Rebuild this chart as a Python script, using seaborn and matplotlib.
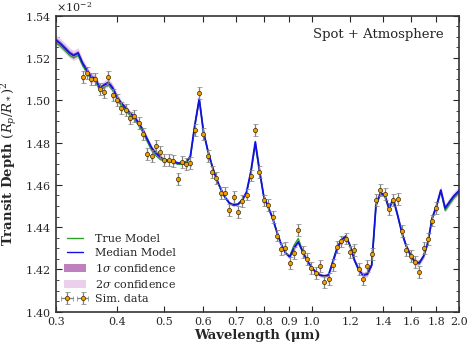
import numpy as np
import pandas as pd
import seaborn as sns
import matplotlib
matplotlib.use('Agg')
import matplotlib.pyplot as plt
from matplotlib.ticker import FixedLocator, FixedFormatter, NullLocator, MultipleLocator, ScalarFormatter
from matplotlib.patches import Patch
from matplotlib.lines import Line2D

sns.set_style('ticks')
plt.rcParams['font.family'] = ['DejaVu Serif']
plt.rcParams['mathtext.fontset'] = 'dejavuserif'

# simulated data: wavelength (um) and transit depth (in units of 1e-2)
wl = [0.340, 0.347, 0.354, 0.361, 0.369, 0.376, 0.384, 0.392, 0.400, 0.408,
      0.417, 0.425, 0.434, 0.443, 0.452, 0.461, 0.471, 0.480, 0.490, 0.500,
      0.511, 0.521, 0.532, 0.543, 0.554, 0.565, 0.577, 0.589, 0.601, 0.613,
      0.626, 0.638, 0.652, 0.665, 0.679, 0.693, 0.707, 0.721, 0.736, 0.751,
      0.767, 0.782, 0.798, 0.815, 0.832, 0.849, 0.866, 0.884, 0.902, 0.920,
      0.939, 0.959, 0.978, 0.998, 1.019, 1.040, 1.061, 1.083, 1.105, 1.128,
      1.151, 1.175, 1.199, 1.223, 1.249, 1.274, 1.300, 1.327, 1.354, 1.382,
      1.411, 1.439, 1.469, 1.499, 1.530, 1.561, 1.593, 1.626, 1.660, 1.694,
      1.728, 1.764, 1.800]
depth = [1.5111, 1.5130, 1.5099, 1.5099, 1.5055, 1.5038, 1.5111, 1.5025, 1.5003, 1.4963,
         1.4954, 1.4916, 1.4924, 1.4891, 1.4839, 1.4744, 1.4735, 1.4785, 1.4754, 1.4717,
         1.4719, 1.4714, 1.4628, 1.4708, 1.4697, 1.4705, 1.4861, 1.5034, 1.4840, 1.4736,
         1.4661, 1.4631, 1.4561, 1.4563, 1.4482, 1.4542, 1.4471, 1.4525, 1.4554, 1.4644,
         1.4858, 1.4661, 1.4526, 1.4506, 1.4446, 1.4360, 1.4296, 1.4300, 1.4229, 1.4277,
         1.4385, 1.4282, 1.4250, 1.4205, 1.4182, 1.4217, 1.4140, 1.4155, 1.4221, 1.4307,
         1.4332, 1.4346, 1.4281, 1.4291, 1.4200, 1.4156, 1.4215, 1.4274, 1.4528, 1.4575,
         1.4557, 1.4486, 1.4527, 1.4532, 1.4381, 1.4291, 1.4262, 1.4234, 1.4189, 1.4300,
         1.4343, 1.4431, 1.4490]
DEPTH_ERR = 0.0028
WL_ERR = 0.001

# model grid and spectra (transit depth in units of 1e-2)
model_wl = [0.300, 0.307, 0.313, 0.320, 0.326, 0.333] + wl + [1.837, 1.875, 1.913, 1.953, 2.000]
median_model = [1.5285, 1.5266, 1.5247, 1.5224, 1.5212, 1.5224, 1.5176, 1.5143, 1.5110, 1.5103,
                1.5058, 1.5072, 1.5084, 1.5058, 1.5015, 1.4987, 1.4963, 1.4940, 1.4921, 1.4892,
                1.4859, 1.4817, 1.4774, 1.4751, 1.4732, 1.4717, 1.4715, 1.4713, 1.4703, 1.4703,
                1.4708, 1.4736, 1.4883, 1.5006, 1.4850, 1.4765, 1.4689, 1.4632, 1.4580, 1.4542,
                1.4514, 1.4505, 1.4509, 1.4528, 1.4566, 1.4661, 1.4803, 1.4670, 1.4547, 1.4495,
                1.4443, 1.4377, 1.4320, 1.4278, 1.4259, 1.4301, 1.4330, 1.4282, 1.4244, 1.4211,
                1.4188, 1.4173, 1.4169, 1.4173, 1.4235, 1.4301, 1.4339, 1.4358, 1.4311, 1.4244,
                1.4197, 1.4173, 1.4178, 1.4221, 1.4505, 1.4561, 1.4552, 1.4490, 1.4533, 1.4457,
                1.4372, 1.4311, 1.4268, 1.4235, 1.4231, 1.4263, 1.4325, 1.4443, 1.4500, 1.4575,
                1.4490, 1.4519, 1.4547, 1.4571]
true_model = [1.5271, 1.5254, 1.5235, 1.5212, 1.5200, 1.5212, 1.5164, 1.5131, 1.5098, 1.5091,
              1.5046, 1.5060, 1.5072, 1.5046, 1.5003, 1.4975, 1.4951, 1.4928, 1.4909, 1.4880,
              1.4847, 1.4805, 1.4762, 1.4739, 1.4720, 1.4711, 1.4709, 1.4707, 1.4697, 1.4697,
              1.4702, 1.4730, 1.4883, 1.5006, 1.4850, 1.4762, 1.4686, 1.4629, 1.4577, 1.4539,
              1.4511, 1.4502, 1.4506, 1.4525, 1.4563, 1.4656, 1.4791, 1.4666, 1.4547, 1.4495,
              1.4443, 1.4377, 1.4320, 1.4278, 1.4262, 1.4313, 1.4346, 1.4287, 1.4244, 1.4211,
              1.4188, 1.4173, 1.4169, 1.4173, 1.4241, 1.4306, 1.4342, 1.4358, 1.4311, 1.4244,
              1.4197, 1.4173, 1.4178, 1.4221, 1.4501, 1.4555, 1.4546, 1.4482, 1.4527, 1.4454,
              1.4372, 1.4311, 1.4268, 1.4231, 1.4226, 1.4263, 1.4325, 1.4443, 1.4500, 1.4570,
              1.4478, 1.4507, 1.4537, 1.4561]
# half widths of the confidence bands
sig1 = [0.0012] * 6 + [0.0010] * 9 + [0.0007] * 10 + [0.0004] * 7 + [0.0008] * 3 \
    + [0.0004] * 10 + [0.0008] * 3 + [0.0004] * 6 + [0.0006] * 4 + [0.0005] * 11 \
    + [0.0007] * 4 + [0.0005] * 1 + [0.0006] * 6 + [0.0007] * 6 + [0.0005] * 3 + [0.0010] * 5
sig2 = [0.0024] * 6 + [0.0020] * 9 + [0.0014] * 10 + [0.0008] * 7 + [0.0016] * 3 \
    + [0.0008] * 10 + [0.0016] * 3 + [0.0008] * 6 + [0.0012] * 4 + [0.0010] * 11 \
    + [0.0014] * 4 + [0.0010] * 1 + [0.0012] * 6 + [0.0014] * 6 + [0.0010] * 3 + [0.0020] * 5

xticks = [0.3, 0.4, 0.5, 0.6, 0.7, 0.8, 0.9, 1.0, 1.2, 1.4, 1.6, 1.8, 2.0]
xticklabels = ['0.3', '0.4', '0.5', '0.6', '0.7', '0.8', '0.9', '1.0', '1.2', '1.4', '1.6', '1.8', '2.0']

scale = 1e-2
models = pd.DataFrame({'wl': model_wl,
                       'median': np.array(median_model) * scale,
                       'true': np.array(true_model) * scale,
                       's1': np.array(sig1) * scale,
                       's2': np.array(sig2) * scale})

fig, ax = plt.subplots(figsize=(4.74, 3.49), dpi=100)
fig.subplots_adjust(left=0.118, right=0.968, bottom=0.107, top=0.955)

c1 = '#bf80bf'
c2 = '#ead0ea'
ax.fill_between(models['wl'], models['median'] - models['s2'], models['median'] + models['s2'],
                color=c2, lw=0, zorder=1)
ax.fill_between(models['wl'], models['median'] - models['s1'], models['median'] + models['s1'],
                color=c1, lw=0, zorder=1.5)
sns.lineplot(data=models, x='wl', y='true', color='#2ca02c', lw=1.0, ax=ax, zorder=2)
sns.lineplot(data=models, x='wl', y='median', color='#1010e0', lw=1.3, ax=ax, zorder=3)

eb = ax.errorbar(wl, np.array(depth) * scale, yerr=DEPTH_ERR * scale, xerr=WL_ERR,
                 fmt='o', ms=3.0, mfc='#f5a000', mec='#3a2a00', mew=0.5,
                 ecolor='0.5', elinewidth=0.9, capsize=1.8, capthick=0.9, zorder=4)

ax.set_xscale('log')
ax.set_xlim(0.3, 2.0)
ax.set_ylim(0.0140, 0.0154)
ax.xaxis.set_major_locator(FixedLocator(xticks))
ax.xaxis.set_major_formatter(FixedFormatter(xticklabels))
ax.xaxis.set_minor_locator(NullLocator())
ax.yaxis.set_major_locator(MultipleLocator(0.02 * scale))
ax.yaxis.set_minor_locator(MultipleLocator(0.005 * scale))
fmt = ScalarFormatter(useMathText=True)
fmt.set_powerlimits((-2, -2))
ax.yaxis.set_major_formatter(fmt)
ax.yaxis.get_offset_text().set_fontsize(8)

ax.tick_params(which='both', direction='in', top=True, right=True, labelsize=8)
ax.tick_params(which='major', length=4, width=0.8)
ax.tick_params(which='minor', length=2, width=0.6)
for sp in ax.spines.values():
    sp.set_linewidth(1.2)
    sp.set_color('0.2')

ax.set_xlabel('Wavelength (\u03bcm)', fontsize=9.5, fontweight='bold', labelpad=2)
ax.set_ylabel('Transit Depth $(R_p/R_*)^2$', fontsize=9.5, fontweight='bold', labelpad=4)
ax.text(0.962, 0.935, 'Spot + Atmosphere', transform=ax.transAxes, ha='right', va='center',
        fontsize=9.5)

handles = [Line2D([], [], color='#2ca02c', lw=1.0),
           Line2D([], [], color='#1010e0', lw=1.0),
           Patch(facecolor=c1, edgecolor='none'),
           Patch(facecolor=c2, edgecolor='none'),
           eb]
labels = ['True Model', 'Median Model', r'1$\sigma$ confidence', r'2$\sigma$ confidence', 'Sim. data']
ax.legend(handles, labels, loc='lower left', frameon=False, fontsize=8, numpoints=2,
          handlelength=2.0, labelspacing=0.35, borderaxespad=0.3)

fig.savefig('out.png', dpi=100)
